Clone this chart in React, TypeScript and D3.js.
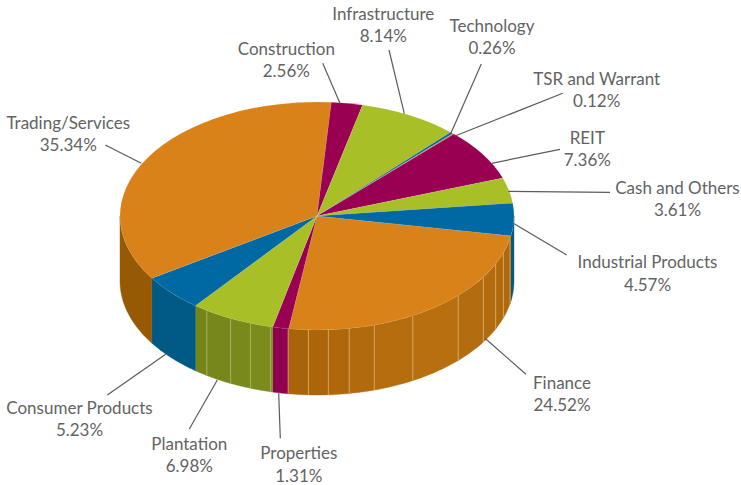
import React from "react";
import * as d3 from "d3";

const categories = ["Finance","Properties","Plantation","Consumer Products","Trading/Services","Construction","Infrastructure","Technology","TSR and Warrant","REIT","Cash and Others","Industrial Products"];
const shares = [24.52,1.31,6.98,5.23,35.34,2.56,8.14,0.26,0.12,7.36,3.61,4.57];
const topColors = ["#d98219","#990052","#a9bf28","#0069a3","#d98219","#990052","#a9bf28","#0069a3","#d98219","#990052","#a9bf28","#0069a3"];
const sideColors = ["#b06a0e","#8f004f","#76861a","#005a85","#955a03","#8f004f","#76861a","#005a85","#955a03","#8f004f","#76861a","#005a85"];
// facet seams on the pie's rim, degrees clockwise from east
const financeSeams = [11.5,18.9,24.9,32.4,44.2,60.9,73.1,80.6,86.7,92.5,98.4];
const plantationSeams = [103.6,109.7,116,124];

const W = 741, H = 485;
const CX = 317, CY = 216, RX = 197, RY = 114, DEPTH = 65;
const START = (100 * Math.PI) / 180;

type Lab = { cx: number; y1: number; y2: number; line: [number, number, number, number] };
const layout: Lab[] = [
  { cx: 562, y1: 388.5, y2: 411, line: [526, 374.3, 485, 338.3] },
  { cx: 298.8, y1: 459, y2: 481.5, line: [280.3, 438.3, 278.7, 393.3] },
  { cx: 189.3, y1: 450, y2: 472, line: [189.3, 429, 217.3, 380] },
  { cx: 79.5, y1: 413.5, y2: 436, line: [107.3, 395, 165.7, 354.3] },
  { cx: 68.3, y1: 129, y2: 151, line: [105.3, 145, 141.3, 163.3] },
  { cx: 286.3, y1: 55, y2: 77, line: [322.7, 63.3, 340, 103.3] },
  { cx: 383.3, y1: 20, y2: 42, line: [389, 50, 404.3, 113.7] },
  { cx: 492, y1: 32, y2: 54, line: [481.3, 64, 451, 133] },
  { cx: 596.7, y1: 85, y2: 107, line: [562.7, 93.3, 455, 136] },
  { cx: 587.3, y1: 144, y2: 166, line: [560, 149.3, 491.7, 163.3] },
  { cx: 677.5, y1: 194, y2: 216, line: [610, 192.3, 508.3, 191.3] },
  { cx: 647.5, y1: 268, y2: 290.5, line: [566.7, 255, 513.3, 223.3] },
];

const pie = d3.pie<number>().sort(null).startAngle(START).endAngle(START + 2 * Math.PI);
const slices = pie(shares);
const arc = d3.arc<d3.PieArcDatum<number>>().innerRadius(0).outerRadius(RX);
const yScale = RY / RX;

// a = pie angle (clockwise from north)
const rimX = (a: number) => CX + RX * Math.sin(a);
const rimY = (a: number) => CY - RY * Math.cos(a);
const pathOf = d3.line<[number, number]>();
const wall = (a0: number, a1: number) => {
  const n = Math.max(2, Math.ceil(Math.abs(a1 - a0) / 0.02));
  const as = d3.range(n + 1).map((i) => a0 + ((a1 - a0) * i) / n);
  const top = as.map((a) => [rimX(a), rimY(a)] as [number, number]);
  const bot = as.slice().reverse().map((a) => [rimX(a), rimY(a) + DEPTH] as [number, number]);
  return pathOf([...top, ...bot]) + "Z";
};
const rad = (deg: number) => ((deg + 90) * Math.PI) / 180;
const VIS0 = Math.PI / 2, VIS1 = (3 * Math.PI) / 2;

const financeShade = d3.scaleLinear<string>().domain([10, 30, 60, 98]).range(["#ac680c", "#b26c0d", "#b8700f", "#a86209"]);
const plantShade = d3.scaleLinear<string>().domain([103, 129]).range(["#7c8c1c", "#74841a"]);

const sideOf = (i: number, a0: number, a1: number) => {
  const mid = ((a0 + a1) / 2) * 180 / Math.PI - 90;
  if (i === 0) return financeShade(mid);
  if (i === 2) return plantShade(mid);
  return sideColors[i];
};

export default function App() {
  const walls: { d: string; fill: string }[] = [];
  const seams: { x: number; y0: number; y1: number; stroke: string }[] = [];
  slices.forEach((s, i) => {
    // the last slices wrap past a full turn; bring them back to the front half
    const off = s.startAngle >= 2 * Math.PI ? 2 * Math.PI : 0;
    const a0 = Math.max(s.startAngle - off, VIS0);
    const a1 = Math.min(s.endAngle - off, VIS1);
    if (a1 <= a0) return;
    const cuts = i === 0 ? financeSeams.map(rad) : i === 2 ? plantationSeams.map(rad) : [];
    const bounds = [a0, ...cuts.filter((c) => c > a0 && c < a1), a1];
    d3.pairs(bounds).forEach(([p, q]) => walls.push({ d: wall(p, q), fill: sideOf(i, p, q) }));
    cuts.forEach((c) => {
      const y = rimY(c);
      seams.push({ x: rimX(c), y0: y, y1: y + DEPTH, stroke: i === 0 ? "#d9a35f" : "#a6b263" });
    });
  });
  return (
    <svg width={W} height={H} viewBox={`0 0 ${W} ${H}`} style={{ position: "absolute", left: 0, top: 0, background: "#fff" }}>
      <g>
        {walls.map((w, i) => (
          <path key={i} d={w.d} fill={w.fill} stroke={w.fill} strokeWidth={0.4} />
        ))}
        {seams.map((s, i) => (
          <line key={i} x1={s.x} x2={s.x} y1={s.y0} y2={s.y1} stroke={s.stroke} strokeWidth={1} />
        ))}
      </g>
      <g transform={`translate(${CX},${CY}) scale(1,${yScale})`}>
        {slices.map((s, i) => (
          <path key={i} d={arc(s) as string} fill={topColors[i]} stroke="#fff" strokeOpacity={0.2} strokeWidth={0.5} />
        ))}
      </g>
      <g stroke="#5c5c5c" strokeWidth={1.2}>
        {layout.map((l, i) => (
          <line key={i} x1={l.line[0]} y1={l.line[1]} x2={l.line[2]} y2={l.line[3]} />
        ))}
      </g>
      <g fontFamily="Lato" fontSize={17} fill="#636363" textAnchor="middle">
        {layout.map((l, i) => (
          <g key={i}>
            <text x={l.cx} y={l.y1}>{categories[i]}</text>
            <text x={l.cx} y={l.y2}>{shares[i].toFixed(2)}%</text>
          </g>
        ))}
      </g>
    </svg>
  );
}
